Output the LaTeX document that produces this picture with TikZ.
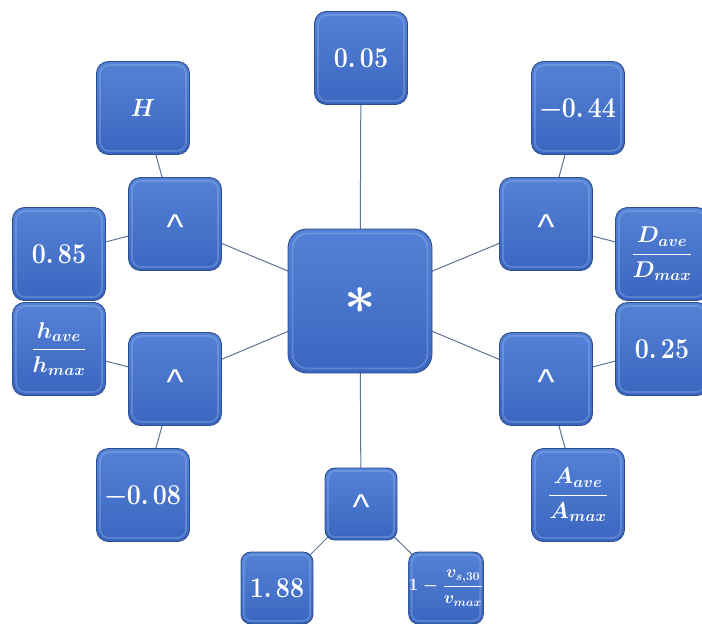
\documentclass[tikz,border=0pt]{standalone}
\usepackage{fontspec}
\usepackage{amsmath}
\usepackage{graphicx}
\usetikzlibrary{backgrounds}
\newfontfamily\caretfont{Liberation Sans}
\definecolor{boxtop}{HTML}{5482D6}
\definecolor{boxbot}{HTML}{3B66C0}
\definecolor{boxedge}{HTML}{2C4E8E}
\definecolor{rimc}{HTML}{A6C2F2}
\definecolor{linkc}{HTML}{5F7294}
\newcommand{\numtxt}[1]{\scalebox{1}[1.15]{\bfseries #1}}
\tikzset{
  bx/.style={draw=boxedge, line width=0.9pt,
    top color=boxtop, bottom color=boxbot, minimum width=#1, minimum height=#1,
    inner sep=0pt, text=white, font=\fontsize{25}{28}\selectfont\boldmath},
  hub/.style={bx=144pt, rounded corners=19pt},
  mid/.style={bx=93pt, rounded corners=12pt},
  sml/.style={bx=72pt, rounded corners=10pt},
  rimline/.style={draw=rimc, line width=1.8pt, opacity=0.3},
  link/.style={draw=linkc, line width=1pt},
  op/.style={font=\caretfont\fontsize{36}{36}\selectfont, text height=0pt, text depth=0pt},
  fr/.style={font=\fontsize{20.74}{24}\selectfont\boldmath},
}
\newcommand{\caret}{\raisebox{-0.42em}{\textasciicircum}}
\newcommand{\rimof}[3]{\draw[rimline, rounded corners=#3] ([shift={(#2,-#2)}]#1.north west) rectangle ([shift={(-#2,#2)}]#1.south east);}
\begin{document}
\begin{tikzpicture}[x=1pt,y=-1pt]
\useasboundingbox (0,0) rectangle (702,624);
% nodes
\node[hub] (star) at (360,301) {\scalebox{2.2}{$\mathord{\ast}$}};
\node[mid] (n005) at (361,58) {\numtxt{0.\,05}};
\node[mid, font=\fontsize{20.74}{24}\selectfont\boldmath] (H) at (143,108) {\scalebox{1.1}[1.2]{$H$}};
\node[mid, op] (aLU) at (175,224) {\caret};
\node[mid] (n085) at (59,254) {\numtxt{0.\,85}};
\node[mid, fr] (hf) at (59,349) {\scalebox{1.1}{$\dfrac{h_{ave}}{h_{max}}$}};
\node[mid, op] (aLL) at (175,379) {\caret};
\node[mid] (n008) at (143,495) {\numtxt{−0.\,08}};
\node[sml, op] (aB) at (361,504) {\caret};
\node[sml] (n188) at (277,588) {\numtxt{1.\,88}};
\node[sml, font=\fontsize{17.28}{20}\selectfont\boldmath] (vf) at (446,588) {$1-\dfrac{v_{s,30}}{v_{max}}$};
\node[mid, fr] (Af) at (578,495) {\scalebox{1.1}{$\dfrac{A_{ave}}{A_{max}}$}};
\node[mid, op] (aRL) at (546,379) {\caret};
\node[mid] (n025) at (662,349) {\numtxt{0.\,25}};
\node[mid, fr] (Df) at (662,254) {\scalebox{1.1}{$\dfrac{D_{ave}}{D_{max}}$}};
\node[mid, op] (aRU) at (546,224) {\caret};
\node[mid] (n044) at (578,108) {\numtxt{−0.\,44}};
% rims
\rimof{star}{5pt}{15pt}
\foreach \n in {n005,H,aLU,n085,hf,aLL,n008,Af,aRL,n025,Df,aRU,n044} {\rimof{\n}{4pt}{9pt}}
\foreach \n in {aB,n188,vf} {\rimof{\n}{3.5pt}{7pt}}
% connectors
\begin{scope}[on background layer]
\foreach \a/\b in {star/n005,star/aLU,star/aLL,star/aB,star/aRU,star/aRL,
  aLU/H,aLU/n085,aLL/hf,aLL/n008,aB/n188,aB/vf,aRU/n044,aRU/Df,aRL/n025,aRL/Af}
  {\draw[link] (\a.center) -- (\b.center);}
\end{scope}
\end{tikzpicture}
\end{document}
